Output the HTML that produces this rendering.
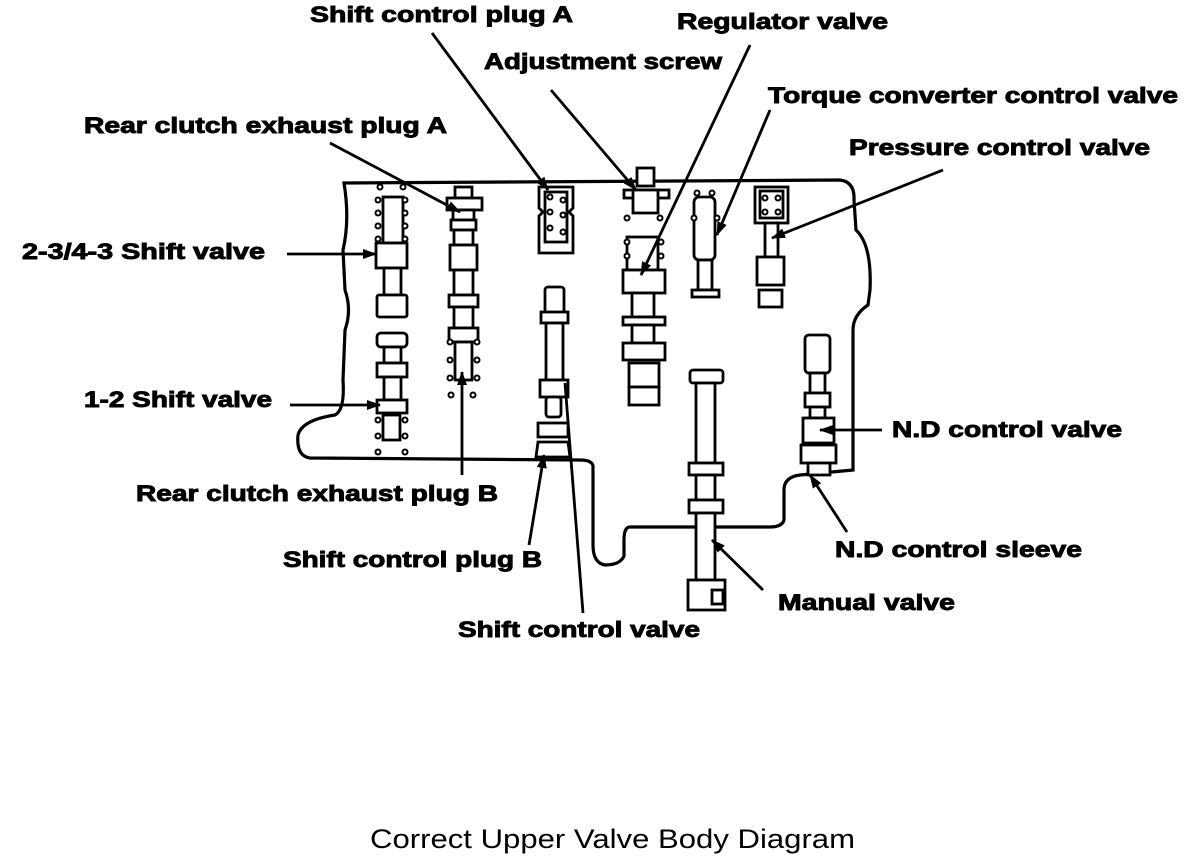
<!DOCTYPE html>
<html><head><meta charset="utf-8"><style>
html,body{margin:0;padding:0;background:#fff;}
svg{display:block}
.t{font-family:"Liberation Sans",Arial,sans-serif;font-weight:bold;font-size:22px;fill:#000;stroke:#000;stroke-width:0.9}
</style></head><body>
<svg width="1200" height="858" viewBox="0 0 1200 858" xmlns="http://www.w3.org/2000/svg">
<defs><marker id="a" markerWidth="14" markerHeight="10" refX="13" refY="5" orient="auto" markerUnits="userSpaceOnUse"><path d="M0,0 L14,5 L0,10 z" fill="#000"/></marker></defs>
<g fill="none" stroke="#000" stroke-width="3.2">
<path d="M344,183 L840,180 Q855,182 854,200 L856,230 Q872,245 870,290 L868,305 Q853,315 853,330 L853,470 L800,475 Q784,477 784,490 L784,520 Q782,527 770,527 L630,527 Q624,527 624,540 L624,556 Q620,565 605,565 Q593,563 593,545 L593,466 Q592,460 580,460 L310,458 Q296,456 298,435 Q302,420 335,415 Q345,410 343,380 L345,330 Q352,310 345,290 L343,250 Q350,220 344,183 Z"/>
</g>
<g fill="#fff" stroke="#000" stroke-width="2.8">
<rect x="383" y="197" width="20" height="46"/>
<rect x="376" y="243" width="31" height="25"/>
<rect x="384" y="268" width="17" height="27"/>
<rect x="377" y="295" width="30" height="22" rx="2"/>
<rect x="377" y="333" width="30" height="14" rx="4"/>
<rect x="384" y="347" width="17" height="16"/>
<rect x="377" y="363" width="30" height="14"/>
<rect x="384" y="377" width="17" height="23"/>
<rect x="377" y="400" width="30" height="13"/>
<rect x="383" y="415" width="17" height="25"/>
<rect x="455" y="187" width="17" height="11"/>
<rect x="447" y="198" width="35" height="12"/>
<rect x="453" y="210" width="21" height="10"/>
<rect x="451" y="220" width="25" height="10"/>
<rect x="454" y="230" width="19" height="15"/>
<rect x="450" y="245" width="27" height="25"/>
<rect x="454" y="270" width="19" height="25"/>
<rect x="449" y="295" width="29" height="12"/>
<rect x="454" y="307" width="19" height="21"/>
<rect x="449" y="328" width="29" height="14"/>
<rect x="455" y="342" width="17" height="38"/>
<path d="M539,187 L573,187 L573,208 L569,212 L573,216 L573,253 L539,253 L539,216 L543,212 L539,208 Z"/>
<rect x="545" y="192" width="22" height="50"/>
<rect x="545" y="287" width="19" height="26" rx="3"/>
<rect x="541" y="312" width="27" height="11"/>
<rect x="546" y="323" width="17" height="57"/>
<rect x="540" y="380" width="28" height="17"/>
<rect x="546" y="397" width="15" height="20" rx="3"/>
<rect x="538" y="423" width="30" height="14"/>
<path d="M538,442 L568,442 L570,457 L536,457 Z"/>
<rect x="637" y="168" width="17" height="18"/>
<rect x="624" y="190" width="45" height="8"/>
<rect x="633" y="190" width="25" height="23"/>
<rect x="627" y="237" width="31" height="33"/>
<rect x="623" y="270" width="42" height="23"/>
<rect x="632" y="293" width="22" height="24"/>
<rect x="623" y="317" width="42" height="8"/>
<rect x="632" y="325" width="22" height="18"/>
<rect x="623" y="343" width="42" height="17"/>
<rect x="629" y="363" width="30" height="24"/>
<rect x="629" y="387" width="30" height="18"/>
<rect x="694" y="197" width="21" height="63" rx="5"/>
<rect x="698" y="260" width="14" height="30"/>
<rect x="692" y="290" width="27" height="7"/>
<rect x="755" y="187" width="33" height="36"/>
<rect x="760" y="191" width="23" height="27"/>
<rect x="765" y="223" width="13" height="34"/>
<rect x="757" y="257" width="27" height="28"/>
<rect x="759" y="290" width="23" height="17"/>
<rect x="690" y="370" width="33" height="13" rx="3"/>
<rect x="696" y="383" width="19" height="80"/>
<rect x="689" y="463" width="34" height="12"/>
<rect x="696" y="475" width="19" height="25"/>
<rect x="689" y="500" width="34" height="13"/>
<rect x="696" y="513" width="19" height="67"/>
<rect x="688" y="580" width="37" height="30"/>
<rect x="712" y="590" width="11" height="14"/>
<rect x="805" y="335" width="25" height="38" rx="4"/>
<rect x="810" y="373" width="15" height="20"/>
<rect x="805" y="393" width="25" height="14"/>
<rect x="810" y="407" width="15" height="11"/>
<rect x="803" y="418" width="31" height="25"/>
<rect x="801" y="445" width="35" height="18"/>
<rect x="808" y="463" width="22" height="12"/>
</g>
<g fill="#fff" stroke="#000" stroke-width="2">
<circle cx="380" cy="187" r="2.5"/><circle cx="403" cy="187" r="2.5"/>
<circle cx="378" cy="200" r="2.5"/><circle cx="405" cy="200" r="2.5"/>
<circle cx="378" cy="213" r="2.5"/><circle cx="405" cy="213" r="2.5"/>
<circle cx="378" cy="226" r="2.5"/><circle cx="405" cy="226" r="2.5"/>
<circle cx="378" cy="239" r="2.5"/><circle cx="405" cy="239" r="2.5"/>
<circle cx="378" cy="420" r="2.5"/><circle cx="405" cy="420" r="2.5"/>
<circle cx="378" cy="436" r="2.5"/><circle cx="405" cy="436" r="2.5"/>
<circle cx="378" cy="452" r="2.5"/><circle cx="405" cy="452" r="2.5"/>
<circle cx="450" cy="342" r="2.5"/><circle cx="477" cy="342" r="2.5"/>
<circle cx="450" cy="360" r="2.5"/><circle cx="477" cy="360" r="2.5"/>
<circle cx="450" cy="378" r="2.5"/><circle cx="477" cy="378" r="2.5"/>
<circle cx="451" cy="395" r="2.5"/><circle cx="473" cy="395" r="2.5"/>
<circle cx="550" cy="197" r="2.5"/><circle cx="563" cy="200" r="2.5"/>
<circle cx="550" cy="212" r="2.5"/><circle cx="563" cy="215" r="2.5"/>
<circle cx="550" cy="228" r="2.5"/><circle cx="563" cy="232" r="2.5"/>
<circle cx="627" cy="218" r="2.5"/><circle cx="660" cy="218" r="2.5"/>
<circle cx="627" cy="242" r="2.5"/><circle cx="661" cy="242" r="2.5"/>
<circle cx="627" cy="256" r="2.5"/><circle cx="661" cy="256" r="2.5"/>
<circle cx="697" cy="193" r="2.5"/><circle cx="712" cy="193" r="2.5"/>
<circle cx="694" cy="218" r="2.5"/><circle cx="717" cy="218" r="2.5"/>
<circle cx="765" cy="198" r="2.5"/><circle cx="778" cy="198" r="2.5"/>
<circle cx="765" cy="212" r="2.5"/><circle cx="778" cy="212" r="2.5"/>
</g>
<g stroke="#000" stroke-width="2.8" fill="none" marker-end="url(#a)">
<line x1="432" y1="33" x2="548" y2="190"/>
<line x1="750" y1="45" x2="641" y2="275"/>
<line x1="551" y1="90" x2="636" y2="190"/>
<line x1="770" y1="110" x2="717" y2="235"/>
<line x1="330" y1="143" x2="460" y2="212"/>
<line x1="943" y1="170" x2="772" y2="238"/>
<line x1="287" y1="254" x2="376" y2="254"/>
<line x1="290" y1="405" x2="380" y2="405"/>
<line x1="882" y1="430" x2="820" y2="430"/>
<line x1="462" y1="475" x2="462" y2="372"/>
<line x1="847" y1="532" x2="810" y2="475"/>
<line x1="529" y1="545" x2="544" y2="455"/>
<line x1="763" y1="590" x2="712" y2="540"/>
</g>
<line x1="583" y1="613" x2="565" y2="383" stroke="#000" stroke-width="2.8"/>
<text class="t" x="310" y="22" textLength="263" lengthAdjust="spacingAndGlyphs">Shift control plug A</text>
<text class="t" x="677" y="29" textLength="211" lengthAdjust="spacingAndGlyphs">Regulator valve</text>
<text class="t" x="484" y="69" textLength="238" lengthAdjust="spacingAndGlyphs">Adjustment screw</text>
<text class="t" x="768" y="103" textLength="410" lengthAdjust="spacingAndGlyphs">Torque converter control valve</text>
<text class="t" x="84" y="133" textLength="363" lengthAdjust="spacingAndGlyphs">Rear clutch exhaust plug A</text>
<text class="t" x="849" y="155" textLength="301" lengthAdjust="spacingAndGlyphs">Pressure control valve</text>
<text class="t" x="22" y="259" textLength="243" lengthAdjust="spacingAndGlyphs">2-3/4-3 Shift valve</text>
<text class="t" x="84" y="407" textLength="188" lengthAdjust="spacingAndGlyphs">1-2 Shift valve</text>
<text class="t" x="892" y="437" textLength="230" lengthAdjust="spacingAndGlyphs">N.D control valve</text>
<text class="t" x="136" y="501" textLength="362" lengthAdjust="spacingAndGlyphs">Rear clutch exhaust plug B</text>
<text class="t" x="835" y="557" textLength="247" lengthAdjust="spacingAndGlyphs">N.D control sleeve</text>
<text class="t" x="283" y="567" textLength="259" lengthAdjust="spacingAndGlyphs">Shift control plug B</text>
<text class="t" x="778" y="610" textLength="177" lengthAdjust="spacingAndGlyphs">Manual valve</text>
<text class="t" x="458" y="637" textLength="242" lengthAdjust="spacingAndGlyphs">Shift control valve</text>
<text x="370" y="848" font-family="Liberation Sans, Arial, sans-serif" font-size="27" textLength="485" lengthAdjust="spacingAndGlyphs">Correct Upper Valve Body Diagram</text>
</svg>
</body></html>
